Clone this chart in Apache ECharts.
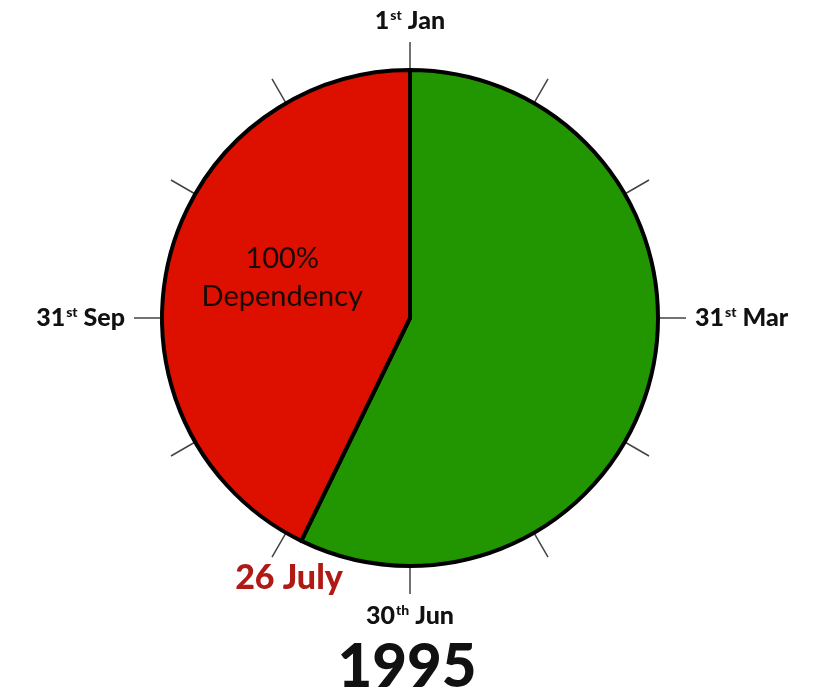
<!DOCTYPE html>
<html>
<head>
<meta charset="utf-8">
<script src="https://cdn.jsdelivr.net/npm/echarts@6/dist/echarts.min.js"></script>
<style>html,body{margin:0;padding:0;background:#fff}#c{width:814px;height:695px}</style>
</head>
<body>
<div id="c"></div>
<script>
// Slices measured in degrees of the year dial (clockwise from 1st Jan at top)
const sliceNames = ['Independent', '100%\nDependency'];
const sliceValues = [206, 154];
const sliceColors = ['#229600', '#dd1000'];
// Dial ticks every 30 degrees; cardinal labels
const tickValues = [0, 90, 180, 270];
const tickLabels = [['1', 'st', ' Jan'], ['31', 'st', ' Mar'], ['30', 'th', ' Jun'], ['31', 'st', ' Sep']];
const yearLabel = '1995';
const markerLabel = '26 July';

const FONT = 'Lato, "Open Sans", sans-serif';
const chart = echarts.init(document.getElementById('c'));
const center = [410, 318];
const R = 248;

chart.setOption({
  animation: false,
  polar: { center: center, radius: [0, R] },
  angleAxis: {
    type: 'value', min: 0, max: 360, interval: 30, startAngle: 90, clockwise: true,
    axisLine: { show: false },
    splitLine: { show: false },
    axisTick: { show: true, inside: false, length: 28, lineStyle: { color: '#444', width: 1.5 } },
    axisLabel: {
      margin: 37,
      formatter: function (v) {
        const i = tickValues.indexOf(v);
        if (i < 0) return '';
        const t = tickLabels[i];
        return '{n|' + t[0] + '}{s|' + t[1] + '}{n|' + t[2] + '}';
      },
      rich: {
        n: { fontFamily: FONT, fontWeight: 900, fontSize: 25, color: '#111' },
        s: { fontFamily: FONT, fontWeight: 900, fontSize: 14, color: '#111', padding: [0, 0, 11, 1] }
      }
    }
  },
  radiusAxis: { show: false, min: 0, max: 1 },
  series: [{
    type: 'pie',
    center: center,
    radius: [0, R],
    startAngle: 90,
    clockwise: true,
    silent: true,
    itemStyle: { borderColor: '#000', borderWidth: 4 },
    label: {
      show: true, position: 'inside',
      fontFamily: FONT, fontSize: 29, lineHeight: 38, color: '#1a0a05',
      offset: [-4, -12],
      formatter: function (p) { return p.dataIndex === 1 ? p.name : ''; }
    },
    labelLine: { show: false },
    data: sliceNames.map((n, i) => ({ name: n, value: sliceValues[i], itemStyle: { color: sliceColors[i] } }))
  }],
  graphic: [
    { type: 'text', left: 'center', top: 638, style: { text: yearLabel, font: '900 60px ' + FONT, fill: '#111' } },
    { type: 'text', x: 289, y: 578, style: { text: markerLabel, font: '900 34px ' + FONT, fill: '#b01a14', align: 'center', verticalAlign: 'middle' } }
  ]
});
</script>
</body>
</html>
